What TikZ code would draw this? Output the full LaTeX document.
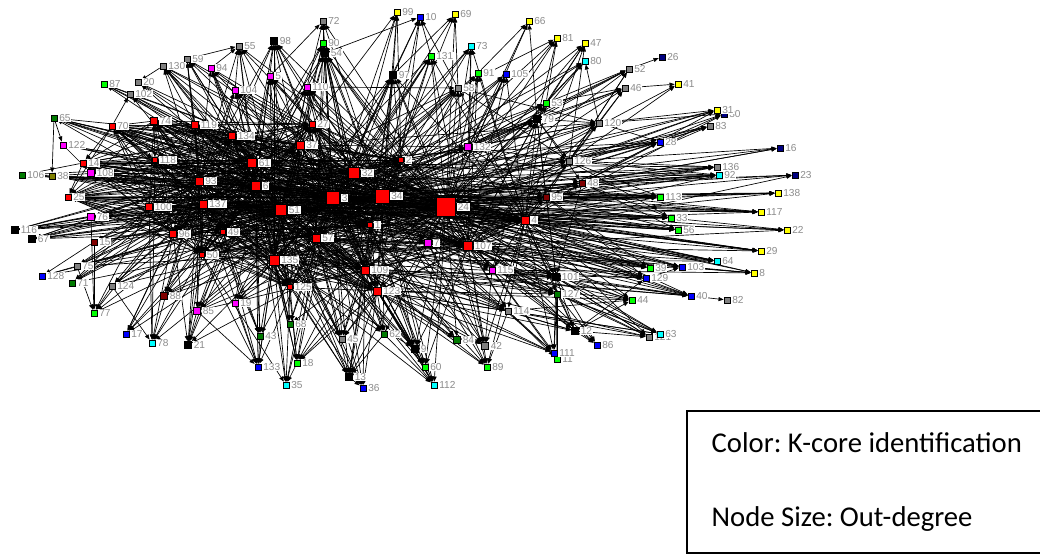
\documentclass[tikz,border=0pt]{standalone}
\usepackage{fontspec}
\setmainfont{Carlito}
\newfontfamily\lblfont{Liberation Sans}
\usetikzlibrary{arrows.meta}
\pgfdeclarelayer{edgelayer}
\pgfsetlayers{edgelayer,main}
\frenchspacing

\definecolor{kRed}{HTML}{FF0000}
\definecolor{kMag}{HTML}{FF00FF}
\definecolor{kGray}{HTML}{808080}
\definecolor{kGreen}{HTML}{00FF00}
\definecolor{kDGreen}{HTML}{007A00}
\definecolor{kBlue}{HTML}{0000FF}
\definecolor{kNavy}{HTML}{000080}
\definecolor{kYellow}{HTML}{FFFF00}
\definecolor{kCyan}{HTML}{00FFFF}
\definecolor{kBlack}{HTML}{000000}
\definecolor{kDRed}{HTML}{800000}
\definecolor{kOlive}{HTML}{808000}
\definecolor{lblgray}{HTML}{8C8C8C}

\tikzset{
  vtx/.style={draw=black, line width=0.6pt, rectangle, inner sep=0pt},
  lbl/.style={anchor=west, fill=white, inner sep=0.6pt, text=lblgray,
    font=\lblfont\fontsize{7.6pt}{8pt}\selectfont},
  lnk/.style={draw=black, line width=0.5pt,
    -{Triangle[length=3.8pt,width=3pt]}},
  legendtxt/.style={anchor=base west, font=\fontsize{21.5pt}{24pt}\selectfont}
}

% vertex: name, x, y, fill colour, size in px
\newcommand\vx[5]{%
  \node[vtx, fill=#4, minimum size=#5*0.75pt] (#1) at (#2,#3) {};
  \node[lbl] (t#1) at ([xshift=0.6pt]#1.east) {#1};}

\begin{document}
\begin{tikzpicture}[x=0.75pt, y=-0.75pt]
\useasboundingbox (0,0) rectangle (1040,555);

% ---- core (red) ----
\vx{24}{446}{207}{kRed}{19}
\vx{3}{333}{198}{kRed}{13}
\vx{34}{382}{196}{kRed}{14}
\vx{32}{354}{173}{kRed}{11}
\vx{51}{281}{210}{kRed}{11}
\vx{6}{256}{186}{kRed}{9}
\vx{61}{252}{163}{kRed}{9}
\vx{135}{274}{260}{kRed}{10}
\vx{107}{468}{246}{kRed}{9}
\vx{93}{199}{181}{kRed}{8}
\vx{137}{203}{204}{kRed}{8}
\vx{37}{300}{145}{kRed}{8}
\vx{57}{316}{238}{kRed}{8}
\vx{4}{525}{220}{kRed}{8}
\vx{109}{365}{270}{kRed}{8}
\vx{123}{377}{291}{kRed}{8}
\vx{100}{149}{207}{kRed}{7}
\vx{96}{173}{234}{kRed}{7}
\vx{134}{232}{136}{kRed}{7}
\vx{74}{154}{121}{kRed}{7}
\vx{119}{195}{125}{kRed}{7}
\vx{27}{312}{124}{kRed}{6}
\vx{70}{112}{126}{kRed}{6}
\vx{118}{155}{160}{kRed}{5}
\vx{14}{83}{163}{kRed}{6}
\vx{25}{68}{197}{kRed}{6}
\vx{49}{223}{232}{kRed}{5}
\vx{50}{202}{255}{kRed}{5}
\vx{1}{370}{225}{kRed}{5}
\vx{2}{401}{160}{kRed}{5}
\vx{125}{290}{287}{kRed}{5}

% ---- magenta ----
\vx{94}{211}{68}{kMag}{6}
\vx{104}{235}{90}{kMag}{6}
\vx{5}{270}{76}{kMag}{6}
\vx{110}{307}{87}{kMag}{6}
\vx{122}{63}{145}{kMag}{6}
\vx{108}{91}{173}{kMag}{7}
\vx{76}{91}{217}{kMag}{7}
\vx{132}{468}{147}{kMag}{7}
\vx{7}{428}{243}{kMag}{7}
\vx{115}{492}{270}{kMag}{6}
\vx{85}{197}{311}{kMag}{7}
\vx{19}{235}{303}{kMag}{6}

% ---- gray ----
\vx{55}{239}{46}{kGray}{6}
\vx{59}{187}{59}{kGray}{6}
\vx{130}{163}{66}{kGray}{6}
\vx{20}{138}{82}{kGray}{6}
\vx{102}{130}{94}{kGray}{6}
\vx{72}{323}{21}{kGray}{6}
\vx{58}{458}{88}{kGray}{6}
\vx{52}{629}{69}{kGray}{6}
\vx{46}{625}{88}{kGray}{6}
\vx{120}{599}{123}{kGray}{6}
\vx{83}{710}{126}{kGray}{6}
\vx{126}{569}{161}{kGray}{6}
\vx{136}{717}{167}{kGray}{6}
\vx{82}{727}{300}{kGray}{6}
\vx{121}{649}{337}{kGray}{6}
\vx{114}{508}{311}{kGray}{6}
\vx{45}{342}{339}{kGray}{6}
\vx{42}{485}{346}{kGray}{7}
\vx{75}{77}{266}{kGray}{6}
\vx{124}{112}{286}{kGray}{6}

% ---- green ----
\vx{87}{104}{84}{kGreen}{6}
\vx{90}{323}{43}{kGreen}{6}
\vx{131}{431}{56}{kGreen}{6}
\vx{91}{478}{73}{kGreen}{6}
\vx{53}{546}{103}{kGreen}{6}
\vx{113}{660}{197}{kGreen}{6}
\vx{33}{671}{218}{kGreen}{6}
\vx{56}{678}{230}{kGreen}{6}
\vx{39}{650}{268}{kGreen}{6}
\vx{44}{632}{300}{kGreen}{6}
\vx{11}{557}{359}{kGreen}{6}
\vx{18}{297}{363}{kGreen}{6}
\vx{60}{425}{367}{kGreen}{6}
\vx{89}{487}{367}{kGreen}{6}
\vx{77}{94}{313}{kGreen}{6}

% ---- dark green ----
\vx{65}{54}{118}{kDGreen}{6}
\vx{106}{22}{175}{kDGreen}{6}
\vx{127}{557}{294}{kDGreen}{6}
\vx{68}{290}{324}{kDGreen}{6}
\vx{62}{384}{334}{kDGreen}{6}
\vx{84}{457}{340}{kDGreen}{7}
\vx{43}{260}{336}{kDGreen}{6}
\vx{71}{72}{283}{kDGreen}{6}

% ---- blue ----
\vx{10}{420}{17}{kBlue}{6}
\vx{105}{506}{74}{kBlue}{6}
\vx{28}{660}{142}{kBlue}{6}
\vx{103}{682}{267}{kBlue}{6}
\vx{129}{646}{278}{kBlue}{6}
\vx{40}{691}{296}{kBlue}{6}
\vx{86}{597}{345}{kBlue}{6}
\vx{111}{554}{353}{kBlue}{6}
\vx{36}{363}{388}{kBlue}{6}
\vx{133}{258}{367}{kBlue}{6}
\vx{17}{126}{334}{kBlue}{6}
\vx{128}{42}{276}{kBlue}{6}

% ---- navy ----
\vx{26}{662}{57}{kNavy}{6}
\vx{30}{724}{114}{kNavy}{6}
\vx{16}{780}{148}{kNavy}{6}
\vx{23}{795}{175}{kNavy}{6}

% ---- yellow ----
\vx{99}{397}{12}{kYellow}{6}
\vx{69}{455}{14}{kYellow}{6}
\vx{66}{529}{21}{kYellow}{6}
\vx{81}{557}{38}{kYellow}{6}
\vx{47}{585}{43}{kYellow}{6}
\vx{41}{678}{84}{kYellow}{6}
\vx{31}{717}{110}{kYellow}{6}
\vx{138}{778}{193}{kYellow}{6}
\vx{117}{761}{212}{kYellow}{6}
\vx{22}{787}{230}{kYellow}{6}
\vx{29}{761}{251}{kYellow}{6}
\vx{8}{754}{273}{kYellow}{6}

% ---- cyan ----
\vx{73}{471}{46}{kCyan}{6}
\vx{80}{585}{61}{kCyan}{6}
\vx{92}{719}{175}{kCyan}{6}
\vx{64}{717}{261}{kCyan}{6}
\vx{63}{660}{334}{kCyan}{6}
\vx{35}{286}{385}{kCyan}{6}
\vx{112}{434}{385}{kCyan}{6}
\vx{78}{152}{343}{kCyan}{6}

% ---- black ----
\vx{98}{274}{41}{kBlack}{7}
\vx{54}{325}{53}{kBlack}{7}
\vx{97}{393}{75}{kBlack}{7}
\vx{79}{537}{119}{kBlack}{7}
\vx{101}{556}{277}{kBlack}{7}
\vx{12}{575}{331}{kBlack}{7}
\vx{9}{415}{349}{kBlack}{7}
\vx{13}{349}{377}{kBlack}{7}
\vx{21}{188}{345}{kBlack}{7}
\vx{116}{15}{230}{kBlack}{7}
\vx{67}{32}{239}{kBlack}{7}

% ---- dark red / olive ----
\vx{48}{582}{183}{kDRed}{6}
\vx{95}{546}{197}{kDRed}{6}
\vx{15}{94}{242}{kDRed}{6}
\vx{88}{164}{296}{kDRed}{7}
\vx{38}{52}{176}{kOlive}{6}

\begin{pgfonlayer}{edgelayer}
% links inside the red core
\def\corelist{24,3,34,32,51,6,61,135,107,93,137,37,57,4,109,123,100,96,134,74,119,27,70,118,14,25,49,50,1,2,125}
\foreach \a [count=\i] in \corelist {
  \foreach \b [count=\j] in \corelist {
    \ifnum\j>\i \draw[lnk] (\a) -- (\b); \fi
  }
}
% links into the outer vertices
\foreach \t/\srcs in {
  72/{54,90,110,5,3,34,24}, 99/{97,2,32,27,3,34}, 10/{54,97,131,58,2,3,34},
  69/{97,58,34,24,3}, 66/{91,79,132,24}, 81/{79,53,58,132,24,34},
  47/{53,79,126,4,24,34}, 80/{53,79,120,2,24,34}, 26/{52},
  52/{53,79,95,126,132,24,34}, 46/{53,79,120,126,24,34,3}, 41/{46,126,24},
  31/{120,126,48,24,34,3}, 30/{28,120,4,24}, 83/{28,126,95,24,34},
  16/{48,126,24,34}, 23/{48,107,24,34},
  136/{126,48,95,24,6,3,34,61}, 92/{126,48,4,95,93,61,3,34,24,51},
  138/{113,95,137,24,4,34}, 117/{4,95,24,100,3,34,61,6},
  22/{33,4,51,24,107}, 29/{24,4,107,3,34,51,6,93}, 64/{24,4,107,135,34,3,51,6},
  8/{103,24,115,57,4,107}, 82/{40}, 40/{101,115,107,4,109,3,34,24,57,135},
  103/{129,39,4,24,34,3,107}, 63/{101,127,114,123,24,107,115},
  121/{12,101,114,127,109,24,107,4}, 86/{12,127,24,107,101},
  111/{101,127,114,123,109,7,24,4,57}, 11/{101,127,114,115},
  12/{127,101,114,115,107,24,4,109,123}, 44/{101,115,114,12,24,107,4,109,123},
  129/{4,107,24,95,12,135,3,34,57,109,51}, 39/{4,24,107,95,6,3,34,51,57,61},
  56/{24,4,95,48,93,61,3,34,51,137}, 33/{24,4,48,95,126,137,100,6,51,3,34},
  113/{24,48,95,126,4,100,93,137,6,61,51,14,25},
  28/{24,126,95,48,120,32,3,34,61,6},
  120/{79,132,58,24,2,37,34,3,107,4}, 126/{79,58,132,24,34,32,3,107,4},
  48/{24,34,132,79,3,107,4,51}, 95/{24,34,3,79,2,132,107,4,51,57},
  101/{24,95,48,79,34,107,4,132,3,57,109,115,123},
  127/{24,7,107,109,4,3,34,57,115,123}, 114/{24,34,3,107,109,123,57,4,6,61},
  89/{114,123,109,7,107,24,34,4,3}, 42/{24,107,7,115,123,57,34,3,4},
  84/{24,3,109,57,123,1}, 60/{109,123,57,1,34,24,3,107},
  112/{109,123,135,62,57,24,34,3,1}, 9/{24,34,1,57,135,3,51,107,123,109},
  62/{3,34,51,109,135,57,6,24,123}, 45/{24,3,34,6,51,57,61,109,123,135},
  13/{51,6,3,135,125,109,123,62,24,34,57,1}, 36/{13,109,135,57,3,6,51,123},
  18/{51,135,6,109,123,3,125,57,24,34}, 35/{135,125,18,50,3,6,57},
  133/{137,49,50,135,85,19,43,3,6,51}, 68/{3,51,6,135,57,24,61},
  43/{3,6,137,49,51,61,93}, 21/{93,137,96,50,61,85,3,24,6},
  78/{100,93,118,124,96,6,61,3}, 17/{137,88,96,6,3,93},
  85/{3,24,51,6,61,93,34,137,107}, 19/{24,3,34,51,6,32},
  88/{61,6,93,137,3,24,51,34}, 77/{76,15,75,124,100,93,6,3},
  124/{93,137,6,61,3,24,51}, 71/{100,137,93,6,61,24}, 128/{15,75,3,24},
  75/{6,61,3,93,137,24,34,51,107}, 15/{3,6,51,93,137,24,34,61},
  67/{6,93,100,61,51,3,24,34,137,96}, 116/{76,6,93,61,24,3,34,51,137,100},
  76/{24,3,6,61,93,34,51,137,107}, 106/{38,14,24,3,6,61,93},
  38/{65,24,3,34,6,61,93,137,51}, 108/{122,24,3,6,61,34,51,32,93},
  122/{65,3,24,6,34}, 65/{24,3,6,61,134,34,93,137,107}, 87/{102,3,61,6,24},
  102/{70,3,6,61,24,93}, 20/{130,61,34,6,3}, 130/{3,61,134,119,32,6,51,24,93},
  59/{3,34,61,119,24,6,51,93,137}, 94/{3,24,34,61,134,51,6,93},
  55/{59,94,104,3,34,61,24,6,51,93}, 104/{3,24,34,6,61,51,57,93,137},
  98/{3,24,34,51,6,32,61,57,93,137,135,109}, 5/{3,24,34,32,51,6,135,57,61},
  110/{3,24,34,32,51,6,57,61,135,109,107},
  90/{3,24,34,32,51,57,61,6,135,109}, 54/{3,24,34,32,51,6,57,61,2,107,135,109,123},
  97/{24,34,3,32,51,57,2,1,107,135,109,123,4}, 131/{24,34,3,32,107,4,51,57,109},
  73/{24,34,132,107,4,3,57}, 91/{24,34,132,3,107,4}, 105/{24,4,132,107,3,34,57},
  58/{24,34,3,32,51,110,6,57,109,107,4}, 53/{24,34,32,132,3,4,107},
  79/{24,34,3,32,107,4,132,51,57,109,115},
  7/{24,34,3,32,51,57,1,4}, 115/{24,34,3,107,4,57}, 132/{24,34,3,32,51,2,37}}{%
  \foreach \s in \srcs { \draw[lnk] (\s) -- (\t); }
}
\end{pgfonlayer}

% legend box, open on the right
\draw[line width=1.1pt] (1045,411) -- (687,411) -- (687,553) -- (1045,553);
\node[legendtxt] (lgcolor) at (707,453) {Color: K-core identification};
\node[legendtxt] (lgsize) at (707,527) {Node Size: Out-degree};
\end{tikzpicture}
\end{document}
